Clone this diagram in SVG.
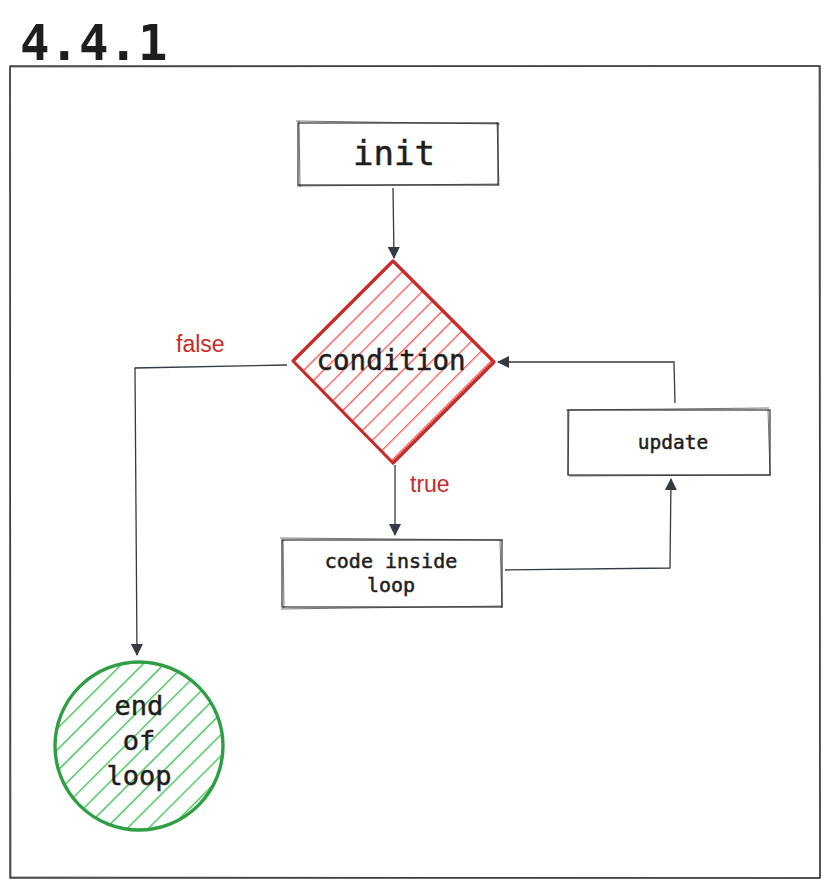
<svg xmlns="http://www.w3.org/2000/svg" width="830" height="887" viewBox="0 0 830 887">
<style>
.mono{font-family:"DejaVu Sans Mono","Liberation Mono",monospace;fill:#1e1e1e;stroke:#1e1e1e;stroke-width:0.5;text-anchor:middle}
.box{fill:#fff;stroke:#1e1e1e;stroke-width:1.1}
.sk{fill:none;stroke:#1e1e1e;stroke-width:0.9;opacity:0.7}
.conn{fill:none;stroke:#343a40;stroke-width:1.3}
.lbl{font-family:"Comic Sans MS","Liberation Sans",cursive;fill:#c92a2a;font-size:23px}
</style>
<defs>
<marker id="ah" viewBox="0 0 12 12" refX="11" refY="6" markerWidth="12" markerHeight="12" markerUnits="userSpaceOnUse" orient="auto">
<path d="M0,0 L12,6 L0,12 Z" fill="#343a40"/>
</marker>
<pattern id="hr" width="14" height="14" patternUnits="userSpaceOnUse" patternTransform="rotate(45)">
<line x1="0" y1="0" x2="0" y2="14" stroke="#fa5252" stroke-width="2.6"/>
</pattern>
<pattern id="hg" width="15" height="15" patternUnits="userSpaceOnUse" patternTransform="rotate(45)">
<line x1="0" y1="0" x2="0" y2="15" stroke="#40c057" stroke-width="2.8"/>
</pattern>
</defs>
<rect width="830" height="887" fill="#fff"/>
<g id="title"><text x="20" y="60" style="font-family:'DejaVu Sans Mono','Liberation Mono',monospace;font-size:49px;font-weight:bold;fill:#1e1e1e">4.4.1</text></g>
<g id="frame">
<rect x="10" y="66" width="810" height="812" fill="none" stroke="#1e1e1e" stroke-width="1.3"/>
<path class="sk" d="M11,67 L819,66 M819,67 L820,877 M11,877 L820,878 M10,67 L11,877"/>
</g>
<g id="connectors">
<path class="conn" d="M393,188 L394,258" marker-end="url(#ah)"/>
<path class="conn" d="M287,365 L135,368 L137,655" marker-end="url(#ah)"/>
<path class="conn" d="M395,465 L395,535" marker-end="url(#ah)"/>
<path class="conn" d="M505,570 L670,568 L671,479" marker-end="url(#ah)"/>
<path class="conn" d="M675,403 L674,362 L498,362" marker-end="url(#ah)"/>
<text class="lbl" x="176" y="352">false</text>
<text class="lbl" x="410" y="492">true</text>
</g>
<g id="init">
<rect class="box" x="298" y="123" width="200" height="62"/>
<path class="sk" d="M296,121 L500,124 M297,186 L499,184 M299,121 L300,187 M497,122 L499,186"/>
<text class="mono" x="394" y="165" font-size="34">init</text>
</g>
<g id="condition">
<path d="M393,261 L494,362 L393,463 L293,361 Z" fill="url(#hr)"/>
<path d="M393,261 L494,362 L393,463 L293,361 Z" fill="none" stroke="#c92a2a" stroke-width="3.2" stroke-linejoin="round"/>
<text class="mono" x="391" y="370" font-size="27.5">condition</text>
</g>
<g id="code">
<rect class="box" x="282" y="540" width="220" height="67"/>
<path class="sk" d="M280,538 L503,540 M281,609 L502,606 M283,539 L284,608 M500,541 L502,608"/>
<text class="mono" x="391" y="568" font-size="20">code inside</text>
<text class="mono" x="391" y="592" font-size="20">loop</text>
</g>
<g id="update">
<rect class="box" x="568" y="410" width="202" height="65"/>
<path class="sk" d="M566,410 L769,408 M569,476 L771,475 M569,411 L568,475 M768,410 L770,474"/>
<text class="mono" x="673" y="449" font-size="19.5">update</text>
</g>
<g id="end">
<circle cx="139" cy="746" r="84" fill="url(#hg)"/>
<circle cx="139" cy="746" r="84" fill="none" stroke="#2f9e44" stroke-width="3.4"/>
<text class="mono" x="139" y="715" font-size="27">end</text>
<text class="mono" x="139" y="750" font-size="27">of</text>
<text class="mono" x="139" y="785" font-size="27">loop</text>
</g>
</svg>
